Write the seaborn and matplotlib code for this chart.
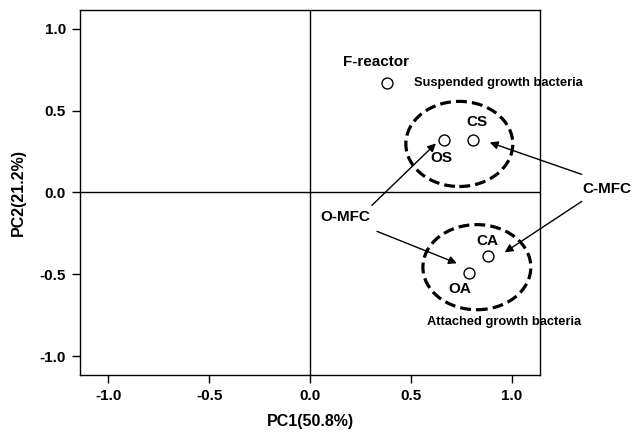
import matplotlib
matplotlib.use("Agg")
import matplotlib.pyplot as plt
from matplotlib.patches import Ellipse
import pandas as pd
import seaborn as sns

# PCA scores
samples = ["F-reactor", "OS", "CS", "CA", "OA"]
pc1 = [0.381, 0.663, 0.807, 0.881, 0.787]
pc2 = [0.671, 0.323, 0.323, -0.390, -0.494]

# group ellipses: (centre x, centre y, width, height)
group_names = ["Suspended growth bacteria", "Attached growth bacteria"]
group_cx = [0.74, 0.827]
group_cy = [0.296, -0.457]
group_w = [0.53, 0.535]
group_h = [0.52, 0.52]

ticks = [-1.0, -0.5, 0.0, 0.5, 1.0]
tick_labels = ["-1.0", "-0.5", "0.0", "0.5", "1.0"]

df = pd.DataFrame({"sample": samples, "PC1": pc1, "PC2": pc2})

sns.set_style("ticks")
plt.rcParams["font.family"] = ["Liberation Sans", "DejaVu Sans"]
plt.rcParams["font.weight"] = "bold"
plt.rcParams["text.color"] = "black"
plt.rcParams["axes.labelcolor"] = "black"
plt.rcParams["xtick.color"] = "black"
plt.rcParams["ytick.color"] = "black"

fig = plt.figure(figsize=(6.35, 4.4), dpi=100)
ax = fig.add_axes([0.126, 0.148, 0.7244, 0.8295])

ax.axhline(0, color="black", lw=1.0, zorder=1)
ax.axvline(0, color="black", lw=1.0, zorder=1)

sns.scatterplot(data=df, x="PC1", y="PC2", marker="o", s=62, color="white",
                edgecolor="black", linewidth=1.0, ax=ax, zorder=3, legend=False)

for cx, cy, w, h in zip(group_cx, group_cy, group_w, group_h):
    ax.add_patch(Ellipse((cx, cy), w, h, fill=False, edgecolor="black",
                         lw=2.3, linestyle=(0, (3.4, 1.6)), zorder=2))

# point labels
lab = dict(fontsize=11, fontweight="bold", ha="center", va="center")
ax.text(0.327, 0.799, samples[0], **lab)
ax.text(0.653, 0.213, samples[1], **lab)
ax.text(0.827, 0.433, samples[2], **lab)
ax.text(0.881, -0.299, samples[3], **lab)
ax.text(0.743, -0.591, samples[4], **lab)

ax.text(0.515, 0.671, group_names[0], fontsize=9.3, fontweight="bold", ha="left", va="center")
ax.text(0.960, -0.793, group_names[1], fontsize=9.3, fontweight="bold", ha="center", va="center")

ax.text(1.470, 0.018, "C-MFC", fontsize=11, fontweight="bold", ha="center", va="center",
        clip_on=False)
ax.text(0.173, -0.152, "O-MFC", fontsize=11, fontweight="bold", ha="center", va="center")

arrow = dict(arrowstyle="-|>", color="black", lw=1.0, mutation_scale=12, shrinkA=0, shrinkB=0)
for tail, tip in [((0.307, -0.079), (0.624, 0.299)),
                  ((0.332, -0.238), (0.728, -0.433)),
                  ((1.347, 0.110), (0.891, 0.305)),
                  ((1.347, -0.055), (0.965, -0.366))]:
    ax.annotate("", xy=tip, xytext=tail, arrowprops=arrow, annotation_clip=False)

ax.set_xlim(-1.14, 1.14)
ax.set_ylim(-1.115, 1.115)
ax.set_xticks(ticks)
ax.set_xticklabels(tick_labels)
ax.set_yticks(ticks)
ax.set_yticklabels(tick_labels)
ax.tick_params(direction="out", length=6, width=1, labelsize=11, pad=4, colors="black")
for lbl in ax.get_xticklabels() + ax.get_yticklabels():
    lbl.set_fontweight("bold")

for sp in ax.spines.values():
    sp.set_visible(True)
    sp.set_linewidth(1.0)
    sp.set_color("black")

ax.set_xlabel("PC1(50.8%)", fontsize=11.5, fontweight="bold", labelpad=8)
ax.set_ylabel("PC2(21.2%)", fontsize=11.5, fontweight="bold", labelpad=10)

fig.savefig("out.png", dpi=100)
